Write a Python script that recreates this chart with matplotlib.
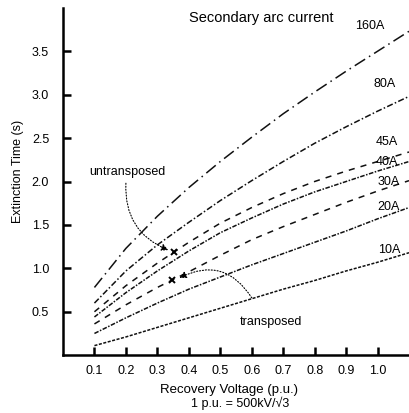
import matplotlib
matplotlib.use("Agg")
import matplotlib.pyplot as plt

plt.rcParams['font.family'] = ['Liberation Sans', 'DejaVu Sans']

# recovery voltage (p.u.)
voltage = [0.1, 0.2, 0.3, 0.4, 0.5, 0.6, 0.7, 0.8, 0.9, 1.0, 1.1]

# extinction time (s) for each secondary arc current
t_160 = [0.78, 1.23, 1.60, 1.93, 2.23, 2.51, 2.78, 3.03, 3.27, 3.50, 3.73]
t_80 = [0.60, 0.97, 1.27, 1.53, 1.78, 2.01, 2.23, 2.44, 2.63, 2.81, 2.98]
t_45 = [0.50, 0.80, 1.06, 1.30, 1.52, 1.70, 1.86, 2.00, 2.12, 2.23, 2.34]
t_40 = [0.44, 0.72, 0.97, 1.20, 1.41, 1.58, 1.74, 1.88, 2.00, 2.12, 2.23]
t_30 = [0.36, 0.58, 0.78, 0.96, 1.15, 1.33, 1.48, 1.62, 1.76, 1.89, 2.01]
t_20 = [0.25, 0.43, 0.60, 0.76, 0.90, 1.04, 1.17, 1.30, 1.43, 1.57, 1.70]
t_10 = [0.11, 0.21, 0.32, 0.43, 0.54, 0.65, 0.76, 0.86, 0.97, 1.07, 1.18]

currents = ['160A', '80A', '45A', '40A', '30A', '20A', '10A']
series = [t_160, t_80, t_45, t_40, t_30, t_20, t_10]

x_ticks = [0.1, 0.2, 0.3, 0.4, 0.5, 0.6, 0.7, 0.8, 0.9, 1.0]
y_ticks = [0.5, 1.0, 1.5, 2.0, 2.5, 3.0, 3.5]

# marked operating points (x markers)
untr_point = (0.352, 1.19)
tran_point = (0.347, 0.87)

styles = [(0, (8, 3, 1, 3)), (0, (4, 1.5, 1, 1.5)), (0, (4, 4)),
          (0, (3, 1, 1, 1)), (0, (4, 4)), (0, (3, 1, 1, 1)), (0, (2, 1))]
label_pos = [(0.93, 3.79), (0.987, 3.12), (0.994, 2.45), (0.994, 2.22),
             (1.0, 2.0), (1.0, 1.71), (1.003, 1.21)]

fig = plt.figure(figsize=(4.09, 4.13), dpi=100)
ax = fig.add_axes([0.154, 0.140, 0.846, 0.841])

for ys, name, ls, pos in zip(series, currents, styles, label_pos):
    ax.plot(voltage, ys, color='#111111', lw=1.1, linestyle=ls)
    ax.text(pos[0], pos[1], name, fontsize=9, va='center', ha='left')

ax.plot(*untr_point, marker='x', color='black', ms=4.5, mew=1.4)
ax.plot(*tran_point, marker='x', color='black', ms=4.5, mew=1.4)

# untransposed annotation
ax.text(0.205, 2.11, 'untransposed', fontsize=9, ha='center', va='center')
ax.annotate('', xy=(0.335, 1.21), xytext=(0.2, 1.98),
            arrowprops=dict(arrowstyle='-|>', color='black', lw=0.8, ls=':',
                            mutation_scale=10, shrinkA=0, shrinkB=0,
                            connectionstyle='arc3,rad=0.35'))
# transposed annotation
ax.text(0.66, 0.38, 'transposed', fontsize=9, ha='center', va='center')
ax.annotate('', xy=(0.37, 0.89), xytext=(0.6, 0.66),
            arrowprops=dict(arrowstyle='-|>', color='black', lw=0.8, ls=':',
                            mutation_scale=10, shrinkA=0, shrinkB=0,
                            connectionstyle='arc3,rad=0.45'))

ax.set_xlim(0, 1.1)
ax.set_ylim(0, 4.0)
ax.set_xticks(x_ticks)
ax.set_xticklabels([f'{v:.1f}' for v in x_ticks])
ax.set_yticks(y_ticks)
ax.set_yticklabels([f'{v:.1f}' for v in y_ticks])
ax.tick_params(direction='in', length=6, width=1.8, labelsize=9)
ax.tick_params(axis='x', pad=7)
ax.tick_params(axis='y', pad=10)
for s in ['top', 'right']:
    ax.spines[s].set_visible(False)
for s in ['left', 'bottom']:
    ax.spines[s].set_linewidth(1.8)

fig.text(261 / 409, 1 - 18 / 413, 'Secondary arc current', fontsize=10.5,
         ha='center', va='center')
fig.text(229 / 409, 1 - 390 / 413, 'Recovery Voltage (p.u.)', fontsize=9.5,
         ha='center', va='center')
fig.text(240 / 409, 1 - 403 / 413, '1 p.u. = 500kV/√3', fontsize=9,
         ha='center', va='center')
fig.text(18 / 409, 1 - 171 / 413, 'Extinction Time (s)', fontsize=9,
         rotation=90, ha='center', va='center')

fig.savefig('out.png', dpi=100)
